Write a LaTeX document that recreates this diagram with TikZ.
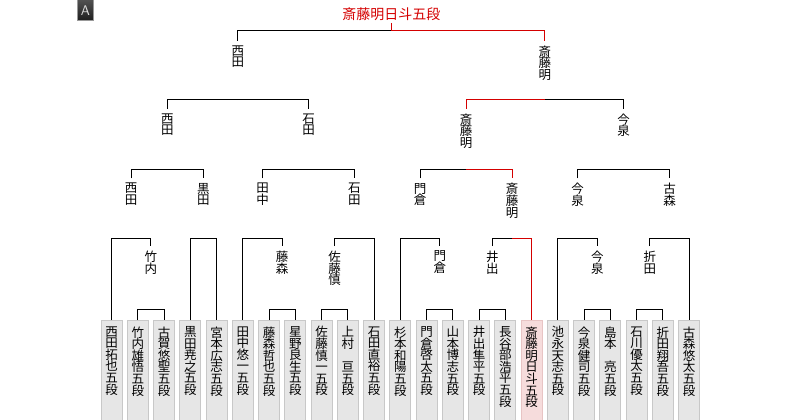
\documentclass[tikz,border=0pt]{standalone}
\usepackage{fontspec}
\newfontfamily\jpfont{Noto Sans CJK JP}
\usetikzlibrary{shadings}

\definecolor{winred}{RGB}{212,0,0}
\definecolor{boxfill}{RGB}{230,230,230}
\definecolor{boxline}{RGB}{200,200,200}
\definecolor{winfill}{RGB}{246,220,220}
\definecolor{winedge}{RGB}{232,196,196}

% 縦書き: one character per line
\newcommand\tatechars[1]{\ifx#1\relax\else\hbox to 12pt{\hss#1\hss}\expandafter\tatechars\fi}
\newcommand\tate[1]{\vbox{\baselineskip=11.6pt\lineskiplimit=-\maxdimen\tatechars#1\relax}}
\newcommand\tatebox[1]{\vbox to 100pt{\vskip6.5pt\baselineskip=11.6pt\lineskiplimit=-\maxdimen\tatechars#1\relax\vfil}}

\tikzset{
  pbox/.style={draw=boxline, fill=boxfill, minimum width=21pt, inner sep=0pt,
    outer sep=0pt, anchor=north, font=\jpfont\fontsize{12.5}{12.5}\selectfont},
  pwin/.style={pbox, draw=winedge, fill=winfill},
  wlab/.style={anchor=north, inner xsep=0pt, inner ysep=5pt, outer sep=0pt,
    font=\jpfont\fontsize{12.5}{12.5}\selectfont},
  winline/.style={draw=winred},
  abox/.style={top color=black!68, bottom color=black!88, draw=black!40,
    minimum width=16pt, minimum height=21pt, inner sep=0pt, text=black!12,
    font=\sffamily\fontsize{14}{14}\selectfont},
}

\begin{document}
\begin{tikzpicture}[x=1pt, y=-1pt, line width=1pt]
  \useasboundingbox (0,0) rectangle (800,420);

  \node[abox] (mark) at (85.3,10.3) {A};

  % players
  \foreach \nm [count=\i] in {西田拓也五段, 竹内雄悟五段, 古賀悠聖五段, 黒田尭之五段,
      宮本広志五段, 田中悠一五段, 藤森哲也五段, 星野良生五段, 佐藤慎一五段,
      上村\empty 亘五段, 石田直裕五段, 杉本和陽五段, 門倉啓太五段, 山本博志五段,
      井出隼平五段, 長谷部浩平五段}
    \node[pbox] (p\i) at ({111.5+26.26*(\i-1)}, 320) {\expandafter\tatebox\expandafter{\nm}};
  \node[pwin] (p17) at (531.7, 320) {\tatebox{斎藤明日斗五段}};
  \foreach \nm [count=\i from 18] in {池永天志五段, 今泉健司五段, 島本\empty 亮五段,
      石川優太五段, 折田翔吾五段, 古森悠太五段}
    \node[pbox] (p\i) at ({111.5+26.26*(\i-1)}, 320) {\expandafter\tatebox\expandafter{\nm}};

  % winners of each round
  \node[wlab] (q1) at (150.9,246) {\tate{竹内}};
  \node[wlab] (q2) at (282.2,246) {\tate{藤森}};
  \node[wlab] (q3) at (334.7,246) {\tate{佐藤慎}};
  \node[wlab] (q4) at (439.8,246) {\tate{門倉}};
  \node[wlab] (q5) at (492.3,246) {\tate{井出}};
  \node[wlab] (q6) at (597.3,246) {\tate{今泉}};
  \node[wlab] (q7) at (649.8,246) {\tate{折田}};

  \node[wlab] (r1) at (131.2,178.3) {\tate{西田}};
  \node[wlab] (r2) at (203.4,178.3) {\tate{黒田}};
  \node[wlab] (r3) at (262.5,178.3) {\tate{田中}};
  \node[wlab] (r4) at (354.4,178.3) {\tate{石田}};
  \node[wlab] (r5) at (420.1,178.3) {\tate{門倉}};
  \node[wlab] (r6) at (512.0,178.3) {\tate{斎藤明}};
  \node[wlab] (r7) at (577.6,178.3) {\tate{今泉}};
  \node[wlab] (r8) at (669.5,178.3) {\tate{古森}};

  \node[wlab] (s1) at (167.3,108.7) {\tate{西田}};
  \node[wlab] (s2) at (308.5,108.7) {\tate{石田}};
  \node[wlab] (s3) at (466.0,108.7) {\tate{斎藤明}};
  \node[wlab] (s4) at (623.6,108.7) {\tate{今泉}};

  \node[wlab] (f1) at (237.9,40.7) {\tate{西田}};
  \node[wlab] (f2) at (544.8,40.7) {\tate{斎藤明}};

  \node[anchor=south, inner xsep=0pt, inner ysep=2.5pt, outer sep=0pt, text=winred,
    font=\jpfont\fontsize{14}{14}\selectfont] (champ) at (391.3,23) {斎藤明日斗五段};

  % brackets
  \foreach \a/\b in {p2/p3, p7/p8, p9/p10, p13/p14, p15/p16, p19/p20, p21/p22}
    \draw (\a.north) -- (\a.north |- 0,309) -| (\b.north);

  \foreach \a/\b in {p1/q1, p4/p5, p6/q2, q3/p11, p12/q4, p18/q6, q7/p23}
    \draw (\a.north) -- (\a.north |- 0,238) -| (\b.north);
  \draw (q5.north) -- (q5.north |- 0,238) -- (r6.north |- 0,238);
  \draw[winline] (r6.north |- 0,238) -| (p17.north);

  \foreach \a/\b in {r1/r2, r3/r4, r7/r8}
    \draw (\a.north) -- (\a.north |- 0,169.3) -| (\b.north);
  \draw (r5.north) -- (r5.north |- 0,169.3) -- (s3.north |- 0,169.3);
  \draw[winline] (s3.north |- 0,169.3) -| (r6.north);

  \draw (s1.north) -- (s1.north |- 0,99.3) -| (s2.north);
  \draw[winline] (s3.north) -- (s3.north |- 0,99.3) -- (f2.north |- 0,99.3);
  \draw (f2.north |- 0,99.3) -| (s4.north);

  \draw (f1.north) -- (f1.north |- 0,31) -- (champ.south |- 0,31);
  \draw[winline] (champ.south) -- (champ.south |- 0,31) -| (f2.north);
\end{tikzpicture}
\end{document}
